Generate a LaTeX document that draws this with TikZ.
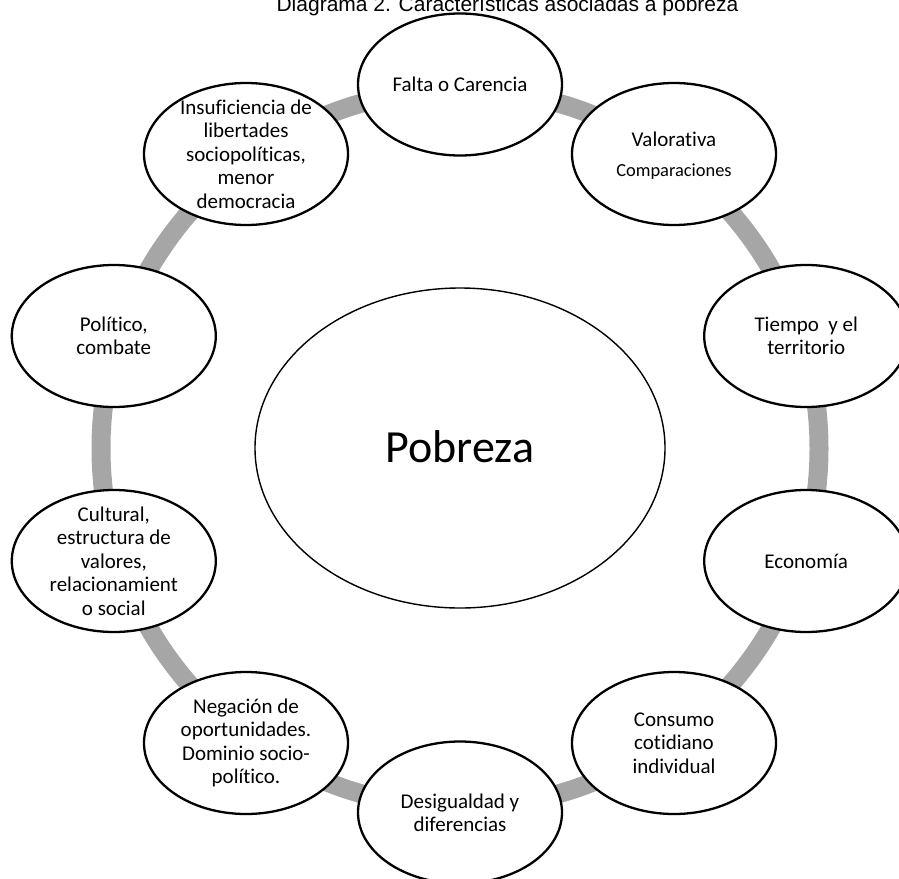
\documentclass[tikz,border=0pt]{standalone}
\usepackage{fontspec}
\setmainfont{Carlito}[Ligatures=NoCommon]
\newfontfamily\arialf{Liberation Sans}
\usetikzlibrary{shapes.geometric}
\definecolor{ringgray}{RGB}{166,166,166}
\begin{document}
\begin{tikzpicture}[x=1pt,y=-1pt,
  item/.style={ellipse, draw=black, line width=2.3pt, fill=white,
    minimum width=204pt, minimum height=142pt, inner sep=0pt},
  itemtext/.style={align=center, inner sep=0pt,
    font=\fontsize{21}{23.4}\selectfont},
  hub/.style={ellipse, draw=black, line width=1.4pt, fill=white,
    minimum width=410pt, minimum height=320pt, inner sep=0pt},
  ring/.style={draw=ringgray, line width=19pt}
]
\useasboundingbox (0,0) rectangle (899,878);
\clip (0,0) rectangle (899,878);
\coordinate (c) at (460,448.5);
\draw[ring] (c) circle[radius=359pt];

\node[anchor=base, inner sep=0pt, font=\arialf\fontsize{21}{25}\selectfont] (title) at (507.5,12)
  {Diagrama 2. Características asociadas a pobreza};

\node[hub] (hub) at (460,448) {};
\node[inner sep=0pt, font=\fontsize{46}{50}\selectfont] (hubt) at (460,447) {Pobreza};

\node[item] (n1) at (460,84.5) {};
\node[item] (n2) at (674,154) {};
\node[item] (n3) at (806.2,336) {};
\node[item] (n4) at (806.2,561) {};
\node[item] (n5) at (674,743) {};
\node[item] (n6) at (460,812.5) {};
\node[item] (n7) at (246,743) {};
\node[item] (n8) at (113.8,561) {};
\node[item] (n9) at (113.8,336) {};
\node[item] (n10) at (246,154) {};

\node[itemtext] (t1) at (n1) {Falta o Carencia};
\node[itemtext] (t2) at ([yshift=-1.5pt]n2.center) {Valorativa\\[6pt]{\fontsize{18.4}{20}\selectfont Comparaciones}};
\node[itemtext] (t3) at (n3) {Tiempo~ y el\\territorio};
\node[itemtext] (t4) at (n4) {Economía};
\node[itemtext] (t5) at (n5) {Consumo\\cotidiano\\individual};
\node[itemtext] (t6) at (n6) {Desigualdad y\\diferencias};
\node[itemtext] (t7) at (n7) {Negación de\\oportunidades.\\Dominio socio-\\político.};
\node[itemtext] (t8) at (n8) {Cultural,\\estructura de\\valores,\\relacionamient\\o social};
\node[itemtext] (t9) at (n9) {Político,\\combate};
\node[itemtext] (t10) at (n10) {Insuficiencia de\\libertades\\sociopolíticas,\\menor\\democracia};
\end{tikzpicture}
\end{document}
